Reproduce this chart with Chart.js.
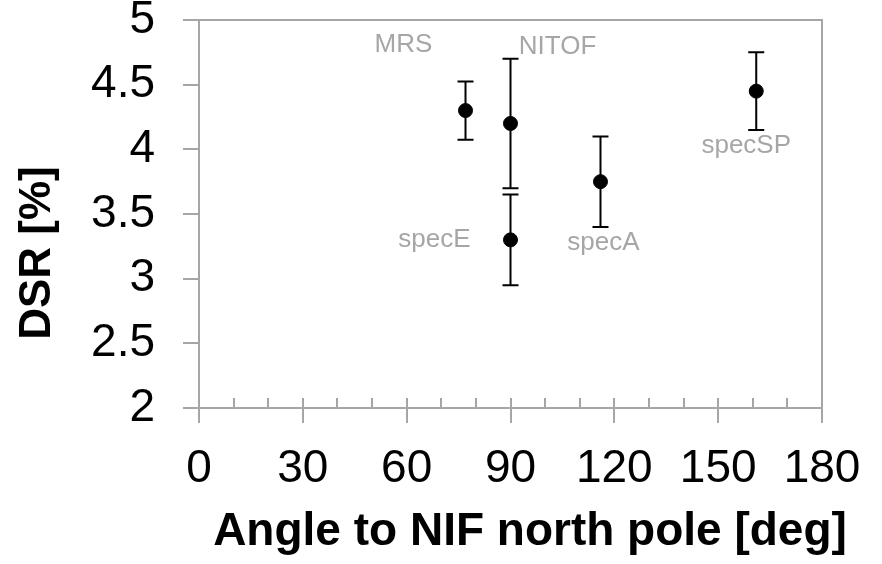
<!DOCTYPE html>
<html>
<head>
<meta charset="utf-8">
<script src="https://cdn.jsdelivr.net/npm/chart.js@4.4.1/dist/chart.umd.min.js"></script>
<style>
  body { margin: 0; background: #fff; }
  #wrap { width: 882px; height: 564px; position: relative; }
</style>
</head>
<body>
<div id="wrap"><canvas id="dsrChart"></canvas></div>
<script>
// measurements per detector line of sight
const detectors = ["MRS", "NITOF", "specE", "specA", "specSP"];
const angles = [77, 90, 90, 116, 161];
const dsr = [4.3, 4.2, 3.3, 3.75, 4.45];
const dsrErr = [0.225, 0.5, 0.35, 0.35, 0.3];

const xTicks = [0, 30, 60, 90, 120, 150, 180];
const yTicks = [2, 2.5, 3, 3.5, 4, 4.5, 5];

const axisGray = "#a6a6a6";
const labelGray = "#a6a6a6";

// where each detector name sits relative to its point (px)
const nameOffsets = [[-62, -66], [47, -77], [-76, 0], [3, 61], [-10, 55]];

Chart.defaults.font.family = "'Liberation Sans', Arial, sans-serif";

const errorBars = {
  id: "errorBars",
  beforeDatasetsDraw(chart) {
    const ctx = chart.ctx;
    const x = chart.scales.x;
    const y = chart.scales.y;
    ctx.save();
    ctx.strokeStyle = "#000";
    ctx.lineWidth = 2;
    for (let i = 0; i < dsr.length; i++) {
      const px = x.getPixelForValue(angles[i]);
      const top = y.getPixelForValue(dsr[i] + dsrErr[i]);
      const bot = y.getPixelForValue(dsr[i] - dsrErr[i]);
      ctx.beginPath();
      ctx.moveTo(px, top);
      ctx.lineTo(px, bot);
      ctx.moveTo(px - 8, top);
      ctx.lineTo(px + 8, top);
      ctx.moveTo(px - 8, bot);
      ctx.lineTo(px + 8, bot);
      ctx.stroke();
    }
    ctx.restore();
  }
};

const frameAndLabels = {
  id: "frameAndLabels",
  beforeDatasetsDraw(chart) {
    const ctx = chart.ctx;
    const a = chart.chartArea;
    const x = chart.scales.x;
    ctx.save();
    ctx.strokeStyle = axisGray;
    ctx.lineWidth = 2;
    ctx.beginPath();
    ctx.moveTo(a.left, a.top);
    ctx.lineTo(a.right, a.top);
    ctx.lineTo(a.right, a.bottom);
    ctx.stroke();
    // small inward ticks every 10 degrees
    ctx.beginPath();
    for (let v = 10; v < 180; v += 10) {
      const px = Math.round(x.getPixelForValue(v));
      ctx.moveTo(px, a.bottom);
      ctx.lineTo(px, a.bottom - 10);
    }
    ctx.stroke();
    ctx.restore();
  },
  afterDatasetsDraw(chart) {
    const ctx = chart.ctx;
    const x = chart.scales.x;
    const y = chart.scales.y;
    ctx.save();
    ctx.fillStyle = labelGray;
    ctx.font = "26px 'Liberation Sans', Arial, sans-serif";
    ctx.textAlign = "center";
    ctx.textBaseline = "middle";
    detectors.forEach((name, i) => {
      const px = x.getPixelForValue(angles[i]) + nameOffsets[i][0];
      const py = y.getPixelForValue(dsr[i]) + nameOffsets[i][1];
      ctx.fillText(name, px, py);
    });

    // axis titles
    ctx.fillStyle = "#000";
    ctx.font = "bold 46px 'Liberation Sans', Arial, sans-serif";
    ctx.fillText("Angle to NIF north pole [deg]", 530, 532);
    ctx.translate(38, 253);
    ctx.rotate(-Math.PI / 2);
    ctx.font = "bold 44px 'Liberation Sans', Arial, sans-serif";
    ctx.fillText("DSR [%]", 0, 0);
    ctx.restore();
  }
};

new Chart(document.getElementById("dsrChart"), {
  type: "scatter",
  data: {
    datasets: [{
      label: "DSR",
      data: angles.map((a, i) => ({ x: a, y: dsr[i] })),
      backgroundColor: "#000",
      borderColor: "#000",
      pointRadius: 7,
      pointHoverRadius: 7
    }]
  },
  options: {
    responsive: true,
    maintainAspectRatio: false,
    animation: false,
    layout: { padding: { top: 20, right: 60, left: 0, bottom: 0 } },
    plugins: {
      legend: { display: false },
      tooltip: { enabled: false }
    },
    scales: {
      x: {
        type: "linear",
        min: 0,
        max: 180,
        afterBuildTicks: s => { s.ticks = xTicks.map(v => ({ value: v })); },
        afterFit: s => { s.height = 156; },
        grid: { drawOnChartArea: false, tickLength: 15, color: axisGray, lineWidth: 2 },
        border: { color: axisGray, width: 2 },
        ticks: { color: "#000", font: { size: 46 }, padding: 19, maxRotation: 0 }
      },
      y: {
        min: 2,
        max: 5,
        afterBuildTicks: s => { s.ticks = yTicks.map(v => ({ value: v })); },
        afterFit: s => {
          s.width = 199;
          // labels may overhang the plot top; keep the plot edge fixed
          s.paddingTop = 0;
          s.paddingBottom = 0;
        },
        grid: { drawOnChartArea: false, tickLength: 16, color: axisGray, lineWidth: 2 },
        border: { color: axisGray, width: 2 },
        ticks: {
          color: "#000",
          font: { size: 46 },
          padding: 28,
          callback: v => String(v)
        }
      }
    }
  },
  plugins: [errorBars, frameAndLabels]
});
</script>
</body>
</html>
